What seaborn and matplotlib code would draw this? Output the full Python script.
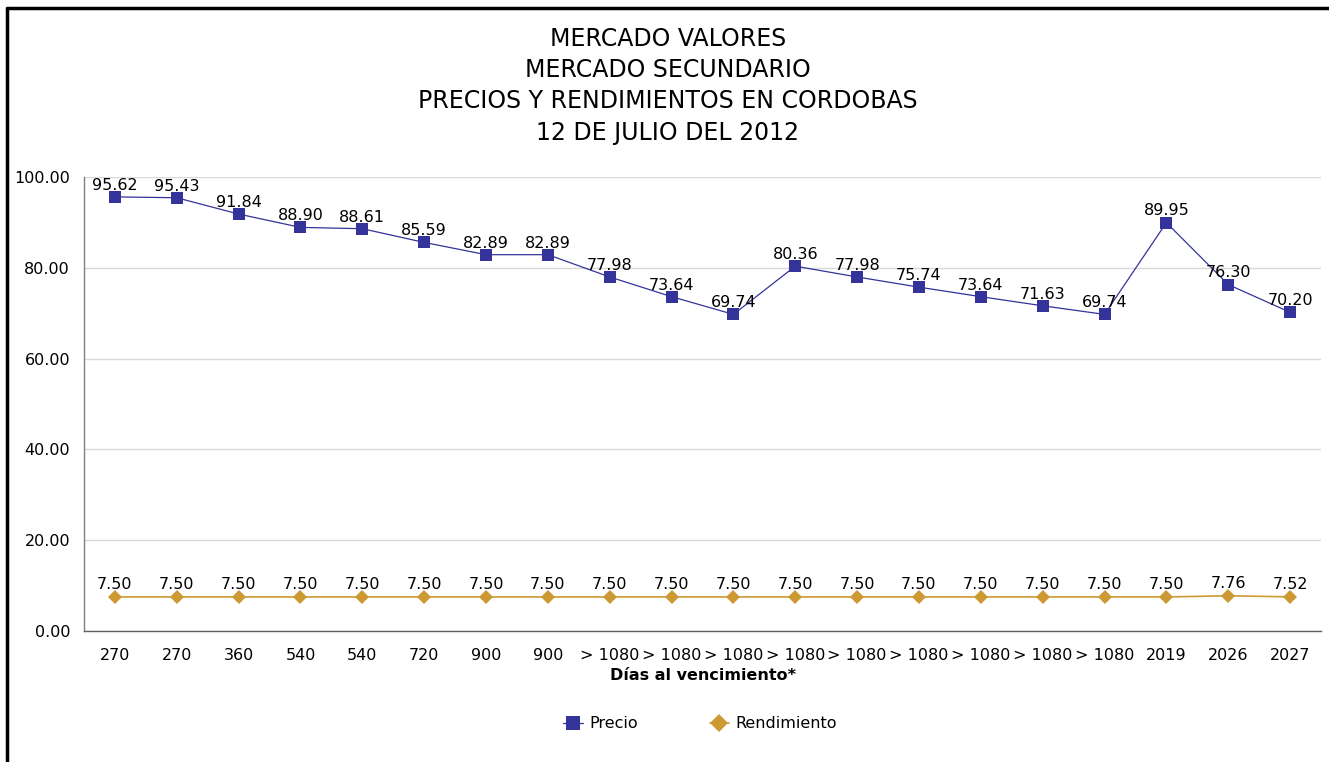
import matplotlib
matplotlib.use("Agg")
import matplotlib.pyplot as plt
import seaborn as sns
import numpy as np
import pandas as pd
from matplotlib.lines import Line2D

categorias = ["270", "270", "360", "540", "540", "720", "900", "900",
              "> 1080", "> 1080", "> 1080", "> 1080", "> 1080", "> 1080",
              "> 1080", "> 1080", "> 1080", "2019", "2026", "2027"]
precio = [95.62, 95.43, 91.84, 88.90, 88.61, 85.59, 82.89, 82.89, 77.98, 73.64,
          69.74, 80.36, 77.98, 75.74, 73.64, 71.63, 69.74, 89.95, 76.30, 70.20]
rendimiento = [7.50] * 18 + [7.76, 7.52]
titulo = "MERCADO VALORES\nMERCADO SECUNDARIO\nPRECIOS Y RENDIMIENTOS EN CORDOBAS\n12 DE JULIO DEL 2012"

c_precio = "#333399"
c_rend = "#CC9933"

sns.set_theme(style="white")
plt.rcParams['font.family'] = ['DejaVu Sans']
plt.rcParams['text.color'] = 'black'
plt.rcParams['xtick.color'] = 'black'
plt.rcParams['ytick.color'] = 'black'
plt.rcParams['axes.labelcolor'] = 'black'

fig = plt.figure(figsize=(13.29, 7.62), dpi=100)
ax = fig.add_axes([84/1329, 1-631/762, (1321-84)/1329, (631-177)/762])

pos = np.arange(len(categorias))
df = pd.DataFrame({"pos": pos, "Precio": precio, "Rendimiento": rendimiento})

sns.lineplot(data=df, x="pos", y="Precio", ax=ax, color=c_precio, marker="s",
             markersize=8, markeredgewidth=0, linewidth=0.9, label="Precio", legend=False)
sns.lineplot(data=df, x="pos", y="Rendimiento", ax=ax, color=c_rend, marker="D",
             markersize=7, markeredgewidth=0, linewidth=1.2, label="Rendimiento", legend=False)

for x, v in zip(pos, precio):
    ax.annotate(f"{v:.2f}", (x, v), xytext=(0, 3), textcoords="offset points",
                ha="center", va="bottom", fontsize=11.5, color="black")
for x, v in zip(pos, rendimiento):
    ax.annotate(f"{v:.2f}", (x, v), xytext=(0, 3.5), textcoords="offset points",
                ha="center", va="bottom", fontsize=11.5, color="black")

ax.set_xlim(-0.5, len(categorias) - 0.5)
ax.set_ylim(0, 100)
ax.set_yticks(np.arange(0, 101, 20))
ax.set_yticklabels([f"{t:.2f}" for t in np.arange(0, 101, 20)], fontsize=11.5)
ax.set_xticks(pos)
ax.set_xticklabels(categorias, fontsize=11.5)
ax.tick_params(axis="both", length=0, pad=10, colors="black")
ax.tick_params(axis="x", pad=12)
ax.set_xlabel("Días al vencimiento*", fontsize=11.5, fontweight="bold", labelpad=4, color="black")
ax.set_ylabel("")
ax.yaxis.grid(True, color="#d9d9d9", linewidth=1)
ax.set_axisbelow(True)
for s in ["top", "right"]:
    ax.spines[s].set_visible(False)
ax.spines["left"].set_color("#808080")
ax.spines["bottom"].set_color("#606060")
ax.spines["left"].set_linewidth(1)
ax.spines["bottom"].set_linewidth(1)

fig.text(668/1329, 1-27/762, titulo, ha="center", va="top", fontsize=17,
         linespacing=1.38, color="black")

handles = [Line2D([], [], color=c_precio, marker="s", markersize=10, markeredgewidth=0, linewidth=0.9),
           Line2D([], [], color=c_rend, marker="D", markersize=9, markeredgewidth=0, linewidth=1.2)]
fig.legend(handles, ["Precio", "Rendimiento"], loc="center", bbox_to_anchor=(700/1329, 1-724/762),
           ncol=2, frameon=False, fontsize=11.5, handlelength=1.2, columnspacing=4.5, handletextpad=0.4)

fig.add_artist(Line2D([7/1329, 7/1329], [0, 1-8/762], transform=fig.transFigure, color="black", linewidth=2.5))
fig.add_artist(Line2D([7/1329, 1], [1-8/762, 1-8/762], transform=fig.transFigure, color="black", linewidth=2.5))

fig.savefig("out.png", dpi=100)
